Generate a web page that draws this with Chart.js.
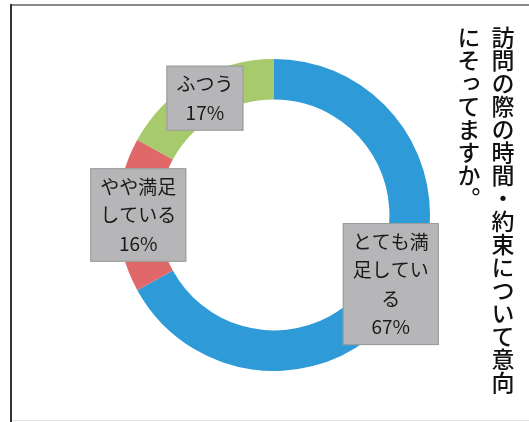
<!DOCTYPE html>
<html>
<head>
<meta charset="utf-8">
<script src="https://cdn.jsdelivr.net/npm/chart.js@4"></script>
<style>
  body { margin: 0; background: #fff; overflow: hidden; }
  #wrap { position: relative; width: 529px; height: 422px; }
  #title {
    position: absolute; top: 26px; right: 9px; height: 390px;
    writing-mode: vertical-rl;
    font-family: "Noto Sans CJK JP", sans-serif; font-size: 23px; font-weight: 500;
    line-height: 34px; color: #111;
  }
</style>
</head>
<body>
<div id="wrap">
  <canvas id="myChart" width="529" height="422"></canvas>
  <div id="title">訪問の際の時間・約束について意向にそってますか。</div>
</div>
<script>
// Daten
const labels = ['とても満足している', 'やや満足している', 'ふつう'];
const values = [67, 16, 17];
const labelLines = [['とても満', '足してい', 'る'], ['やや満足', 'している'], ['ふつう']];
const colors = ['#2f9ad8', '#e06868', '#a7ca6c'];

// Rahmen um das Diagramm
const framePlugin = {
  id: 'frame',
  beforeDraw(chart) {
    const ctx = chart.ctx;
    ctx.save();
    ctx.fillStyle = '#8a8a8a';
    ctx.fillRect(10, 4, 519, 2);
    ctx.fillStyle = '#333';
    ctx.fillRect(10, 4, 2, 418);
    ctx.fillStyle = '#e2e2e2';
    ctx.fillRect(12, 420, 517, 1);
    ctx.restore();
  }
};

// Beschriftungen in grauen Kästchen
const boxLabels = {
  id: 'boxLabels',
  afterDatasetsDraw(chart) {
    const ctx = chart.ctx;
    const meta = chart.getDatasetMeta(0);
    const lineH = 28.5, padX = 10, padY = 4;
    ctx.save();
    ctx.font = '19px "Noto Sans CJK JP", sans-serif';
    ctx.textAlign = 'center';
    ctx.textBaseline = 'middle';
    meta.data.forEach((arc, i) => {
      const pos = arc.tooltipPosition();
      const lines = labelLines[i].concat([values[i] + '%']);
      let w = 0;
      lines.forEach(l => { w = Math.max(w, ctx.measureText(l).width); });
      w += padX * 2;
      const h = lines.length * lineH + padY * 2;
      const x = pos.x - w / 2, y = pos.y - h / 2;
      ctx.fillStyle = '#b6b6b8';
      ctx.fillRect(x, y, w, h);
      ctx.strokeStyle = '#9a9a9a';
      ctx.lineWidth = 1;
      ctx.strokeRect(x + 0.5, y + 0.5, w - 1, h - 1);
      ctx.fillStyle = '#1a1a1a';
      lines.forEach((l, j) => {
        ctx.fillText(l, pos.x, y + padY + lineH * (j + 0.5));
      });
    });
    ctx.restore();
  }
};

const config = {
  type: 'doughnut',
  data: {
    labels: labels,
    datasets: [{
      data: values,
      backgroundColor: colors,
      borderWidth: 0
    }]
  },
  options: {
    responsive: false,
    animation: false,
    cutout: '74%',
    layout: { padding: { left: 118, right: 99, top: 59, bottom: 51 } },
    plugins: {
      legend: { display: false },
      tooltip: { enabled: false },
      title: { display: false }
    }
  },
  plugins: [framePlugin, boxLabels]
};

const ctx = document.getElementById('myChart').getContext('2d');
const myChart = new Chart(ctx, config);
</script>
</body>
</html>
